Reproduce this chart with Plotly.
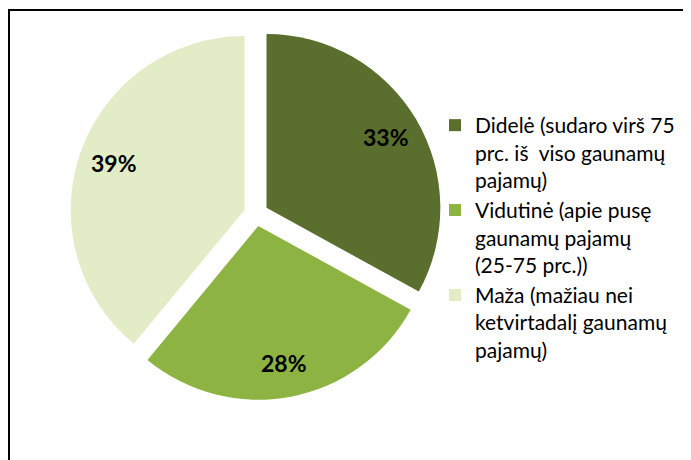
import math
import plotly.graph_objects as go

labels = [
    "Didelė (sudaro virš 75<br>prc. iš  viso gaunamų<br>pajamų)",
    "Vidutinė (apie pusę<br>gaunamų pajamų<br>(25-75 prc.))",
    "Maža (mažiau nei<br>ketvirtadalį gaunamų<br>pajamų)",
]
values = [33, 28, 39]
colors = ["#5a6e2e", "#8db443", "#e2edc8"]
pull = 0.07

# the page has an 8px body margin; work in page pixels and convert
OFF = 8
FW, FH = 691 - OFF, 460 - OFF


def px2x(p):
    return (p - OFF) / FW


def px2y(p):
    return 1 - (p - OFF) / FH


# pie domain in page pixels (left, right, top, bottom)
cxp, cyp, size = 256, 214, 372
dl, dr, dt, db = cxp - size / 2, cxp + size / 2, cyp - size / 2, cyp + size / 2

fig = go.Figure()
fig.add_trace(go.Pie(
    labels=labels,
    values=values,
    sort=False,
    direction="clockwise",
    rotation=0,
    pull=[pull] * len(values),
    marker=dict(colors=colors, line=dict(width=0)),
    textinfo="none",
    domain=dict(x=[px2x(dl), px2x(dr)], y=[px2y(db), px2y(dt)]),
    hoverinfo="label+percent",
))

# percentage labels placed along each slice's mid-angle
r = size / (2 * (1 + pull))
total = sum(values)
cum = 0
annotations = []
for v in values:
    mid = (cum + v / 2) / total * 2 * math.pi
    cum += v
    dist = r * pull + 0.8 * r
    annotations.append(dict(
        x=px2x(cxp + dist * math.sin(mid)),
        y=px2y(cyp - dist * math.cos(mid)),
        xref="paper", yref="paper",
        xanchor="center", yanchor="middle",
        text=f"<b>{v}%</b>", showarrow=False,
        font=dict(family="Lato", size=23, color="black"),
    ))

fig.update_layout(
    width=FW, height=FH,
    margin=dict(l=0, r=0, t=0, b=0),
    paper_bgcolor="white",
    plot_bgcolor="white",
    showlegend=True,
    legend=dict(
        x=px2x(435), y=px2y(105), xanchor="left", yanchor="top",
        font=dict(family="Lato", size=21, color="black"),
        valign="top",
        bgcolor="rgba(0,0,0,0)",
    ),
    annotations=annotations,
    shapes=[dict(
        type="rect", xref="paper", yref="paper",
        x0=px2x(9), x1=1.05, y0=-0.05, y1=px2y(10),
        line=dict(color="black", width=2),
        fillcolor="rgba(0,0,0,0)",
        layer="below",
    )],
)

fig.write_html("out.html")
